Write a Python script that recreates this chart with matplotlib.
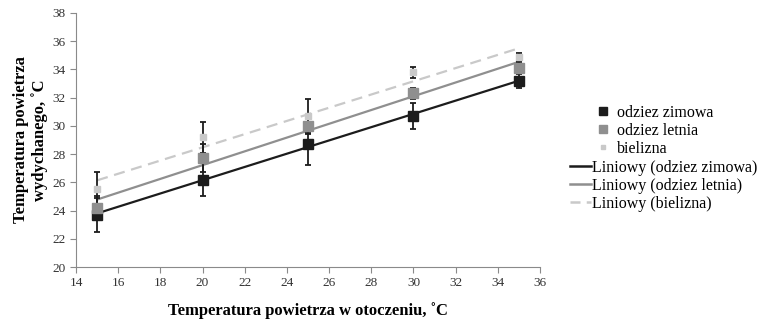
import numpy as np
import matplotlib
matplotlib.use("Agg")
import matplotlib.pyplot as plt
from matplotlib.lines import Line2D

plt.rcParams['font.family'] = ['Liberation Serif', 'DejaVu Serif']

# Temperatura otoczenia
temp_air = [15, 20, 25, 30, 35]

# Temperatura powietrza wydychanego
winter = [23.7, 26.2, 28.7, 30.7, 33.2]
summer = [24.2, 27.7, 30.0, 32.3, 34.1]
underwear = [25.5, 29.2, 30.7, 33.8, 34.9]

# odchylenia
winter_err = [1.2, 1.2, 1.45, 0.95, 0.55]
summer_err = [0.8, 1.0, 0.6, 0.4, 0.4]
underwear_err = [1.25, 1.1, 1.2, 0.4, 0.3]

labels = ['odziez zimowa', 'odziez letnia', 'bielizna']
colors = ['#1c1c1c', '#8f8f8f', '#c9c9c9']
marker_sizes = [7, 7, 5]


def main():
    fig = plt.figure(figsize=(7.61, 3.22), dpi=100)
    ax = fig.add_axes([76 / 761, 1 - 267 / 322, (540 - 76) / 761, (267 - 13) / 322])

    x = np.array(temp_air)
    series = [winter, summer, underwear]
    errs = [winter_err, summer_err, underwear_err]
    styles = ['-', '-', (0, (5, 3))]

    # linie trendu (regresja liniowa)
    for y, c, ls in zip(series, colors, styles):
        a, b = np.polyfit(x, y, 1)
        ax.plot([x[0], x[-1]], [a * x[0] + b, a * x[-1] + b], color=c, lw=1.6,
                linestyle=ls, zorder=2)

    # punkty z odchyleniami
    for y, e, c, ms in zip(series, errs, colors, marker_sizes):
        ax.errorbar(x, y, yerr=e, fmt='none', ecolor='#1c1c1c', elinewidth=1.3,
                    capsize=2.5, capthick=1.3, zorder=3)
        ax.plot(x, y, 's', color=c, markersize=ms, zorder=4)

    ax.set_xlim(14, 36)
    ax.set_ylim(20, 38)
    ax.set_xticks(np.arange(14, 37, 2))
    ax.set_yticks(np.arange(20, 39, 2))
    for s in ['top', 'right']:
        ax.spines[s].set_visible(False)
    for s in ['left', 'bottom']:
        ax.spines[s].set_color('#8a8a8a')
    ax.tick_params(direction='out', length=4, color='#8a8a8a', labelsize=9.5,
                   labelcolor='#333333')

    ax.set_xlabel('Temperatura powietrza w otoczeniu, ˚C', fontsize=12,
                  fontweight='bold', labelpad=9)
    ax.set_ylabel('Temperatura powietrza\nwydychanego, ˚C', fontsize=12,
                  fontweight='bold', labelpad=3)

    # legenda: osobno punkty i linie trendu (jak w Excelu)
    mk_handles = [Line2D([], [], marker='s', ls='none', color=c, markersize=ms - 1.5)
                  for c, ms in zip(colors, marker_sizes)]
    ln_handles = [Line2D([], [], color=c, lw=1.8, ls=ls)
                  for c, ls in zip(colors, [styles[0], styles[1], (0, (4, 2.5))])]
    fig.legend(mk_handles, labels, loc='upper left',
               bbox_to_anchor=(595 / 761, 1 - 105 / 322), frameon=False,
               fontsize=11.5, handlelength=1.0, handletextpad=0.35,
               labelspacing=0.12, borderaxespad=0, borderpad=0)
    fig.legend(ln_handles, ['Liniowy (%s)' % l for l in labels], loc='upper left',
               bbox_to_anchor=(570 / 761, 1 - 160 / 322), frameon=False,
               fontsize=11.5, handlelength=1.3, handletextpad=0.05,
               labelspacing=0.12, borderaxespad=0, borderpad=0)

    fig.savefig('out.png', dpi=100)


if __name__ == '__main__':
    main()
